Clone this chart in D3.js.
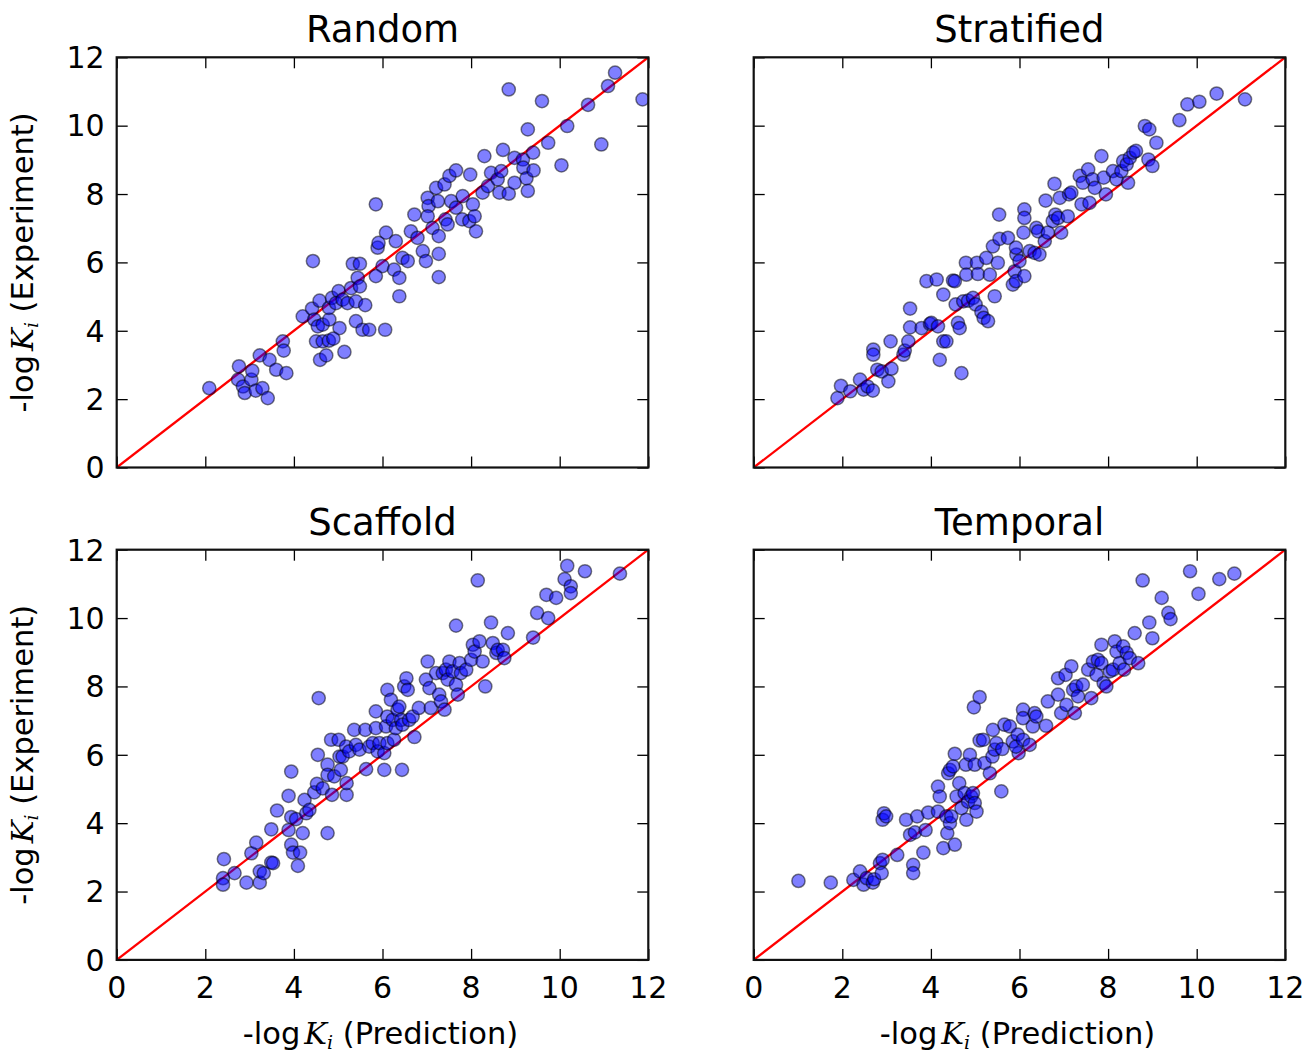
<!DOCTYPE html>
<html>
<head>
<meta charset="utf-8">
<script src="https://cdn.jsdelivr.net/npm/d3@7"></script>
<style>
  html, body { margin: 0; padding: 0; background: #fff; }
  svg { display: block; }
  text { font-family: "DejaVu Sans", sans-serif; fill: #000; }
</style>
</head>
<body>
<svg id="chart" width="1307" height="1057"></svg>
<script>
// Panel titles, in reading order
const panelTitles = ["Random", "Stratified", "Scaffold", "Temporal"];

// Axis ticks shared by every panel (both axes run 0..12)
const tickValues = [0, 2, 4, 6, 8, 10, 12];
const axisDomain = [0, 12];

// [prediction, experiment] pairs of -log Ki for each split
const randomPoints = [
  [2.09,2.32],[2.76,2.96],[2.74,2.57],[2.85,2.37],[2.89,2.18],[3.04,2.57],[3.06,2.83],[3.14,2.25],[3.29,2.32],[3.41,2.03],
  [3.23,3.28],[3.45,3.15],[3.6,2.86],[3.83,2.76],[3.75,3.69],[3.77,3.42],[4.2,4.42],[4.41,4.65],[4.43,6.04],[4.58,4.88],
  [4.46,4.33],[4.54,4.13],[4.65,4.18],[4.8,4.33],[5.03,4.08],[4.5,3.69],[4.65,3.69],[4.79,3.71],[4.89,3.77],[4.59,3.15],
  [4.73,3.28],[5.14,3.38],[4.79,4.67],[4.86,4.96],[5.01,5.16],[4.95,4.81],[5.1,4.91],[5.21,4.81],[5.29,5.25],[5.4,4.86],
  [5.44,5.55],[5.49,5.3],[5.61,4.75],[5.4,4.28],[5.55,4.03],[5.7,4.03],[6.06,4.03],[5.33,5.96],[5.49,5.96],[5.85,7.7],
  [5.89,6.43],[5.91,6.57],[6.0,5.89],[5.85,5.6],[6.08,6.87],[6.26,5.79],[6.38,5.55],[6.38,5.01],[6.3,6.62],[6.45,6.13],
  [6.57,6.04],[6.64,6.91],[6.72,7.4],[6.79,6.72],[6.91,6.33],[6.98,6.04],[7.02,7.89],[7.04,7.65],[7.02,7.35],[7.13,7.01],
  [7.27,6.77],[7.27,6.25],[7.27,5.57],[7.21,8.18],[7.25,7.79],[7.4,8.28],[7.51,8.53],[7.66,8.69],[7.42,7.26],[7.55,7.79],
  [7.66,7.6],[7.47,7.11],[7.81,7.94],[7.8,7.26],[7.96,7.21],[8.04,7.7],[8.08,7.35],[8.11,6.91],[7.98,8.57],[8.26,8.04],
  [8.3,9.11],[8.38,8.23],[8.45,8.62],[8.6,8.43],[8.68,8.67],[8.64,8.04],[8.85,8.01],[8.72,9.29],[8.85,11.06],[8.98,9.06],
  [8.98,8.33],[9.17,9.01],[9.18,8.77],[9.25,8.46],[9.28,8.09],[9.4,9.21],[9.41,8.69],[9.28,9.89],[9.6,10.72],[9.74,9.5],
  [10.04,8.84],[10.17,9.99],[10.64,10.61],[10.94,9.45],[11.09,11.16],[11.25,11.55],[11.87,10.77]
];

const stratifiedPoints = [
  [1.89,2.03],[1.97,2.39],[2.18,2.23],[2.4,2.57],[2.48,2.28],[2.57,2.37],[2.69,2.25],[2.7,3.45],[2.7,3.3],[2.79,2.86],
  [2.89,2.81],[3.04,2.52],[3.11,2.89],[3.09,3.69],[3.38,3.3],[3.41,3.42],[3.49,3.69],[3.53,4.1],[3.53,4.65],[3.79,4.08],
  [3.9,5.45],[3.98,4.2],[4.01,4.23],[4.13,5.5],[4.16,4.13],[4.2,3.15],[4.28,5.06],[4.28,3.69],[4.35,3.69],[4.5,5.47],
  [4.54,5.45],[4.56,4.77],[4.61,4.23],[4.65,4.08],[4.69,2.76],[4.73,4.86],[4.79,5.99],[4.8,5.64],[4.84,4.88],[4.95,4.96],
  [5.01,4.77],[5.04,5.99],[5.06,5.66],[5.14,4.55],[5.19,4.38],[5.25,6.13],[5.29,4.28],[5.33,5.64],[5.4,6.47],[5.44,5.01],
  [5.51,5.99],[5.54,7.4],[5.55,6.69],[5.74,6.72],[5.85,5.35],[5.89,5.74],[5.93,6.23],[6.09,6.87],[6.11,7.55],[6.11,7.3],
  [5.92,6.43],[5.92,5.45],[6.11,5.6],[6.0,6.04],[6.23,6.33],[6.34,6.28],[6.38,7.01],[6.42,6.91],[6.45,6.23],[6.57,6.62],
  [6.59,7.81],[6.64,6.87],[6.75,7.21],[6.79,8.3],[6.81,7.4],[6.87,7.3],[6.91,7.89],[6.94,6.87],[7.09,7.35],[7.12,7.99],
  [7.17,8.04],[7.36,8.53],[7.4,7.7],[7.43,8.33],[7.55,8.72],[7.58,7.74],[7.65,8.43],[7.7,8.18],[7.85,9.11],[7.9,8.48],
  [7.95,7.99],[8.11,8.67],[8.19,8.43],[8.3,8.67],[8.34,8.96],[8.42,8.87],[8.45,8.33],[8.49,9.06],[8.57,9.21],[8.63,9.26],
  [8.83,9.99],[8.93,9.89],[8.91,9.01],[9.0,8.82],[9.09,9.5],[9.61,10.16],[9.79,10.62],[10.06,10.7],[10.45,10.94],[11.09,10.77]
];

const scaffoldPoints = [
  [2.42,2.95],[2.4,2.39],[2.4,2.2],[2.66,2.54],[2.93,2.26],[3.04,3.12],[3.15,3.43],[3.23,2.26],[3.23,2.59],[3.32,2.54],
  [3.49,2.85],[3.53,2.83],[3.49,3.82],[3.62,4.37],[3.88,4.8],[3.94,5.51],[3.88,3.8],[3.94,3.37],[3.98,3.14],[4.14,3.14],
  [4.09,2.75],[3.94,4.18],[4.05,4.12],[4.2,3.71],[4.24,4.68],[4.28,4.29],[4.35,4.39],[4.46,4.9],[4.52,5.15],[4.54,6.0],
  [4.56,7.66],[4.65,5.02],[4.76,3.71],[4.76,5.71],[4.76,5.41],[4.84,6.44],[4.86,4.83],[4.91,5.37],[5.01,6.44],[5.03,5.95],
  [5.06,5.56],[5.1,5.95],[5.18,6.24],[5.19,4.83],[5.19,5.17],[5.25,6.1],[5.36,6.73],[5.4,6.29],[5.48,6.15],[5.61,6.73],
  [5.63,5.58],[5.7,6.24],[5.78,6.34],[5.85,7.27],[5.85,6.78],[5.89,6.1],[5.93,6.34],[6.04,5.56],[6.08,6.83],[6.11,7.9],
  [6.11,7.12],[6.44,5.56],[6.04,6.05],[6.11,6.34],[6.19,7.61],[6.23,7.02],[6.26,6.44],[6.3,6.78],[6.34,7.32],[6.38,7.41],
  [6.42,7.02],[6.45,6.88],[6.49,8.0],[6.54,8.24],[6.57,7.9],[6.6,7.02],[6.68,7.12],[6.72,6.52],[6.82,7.37],[6.98,8.2],
  [7.02,8.73],[7.06,7.95],[7.09,7.37],[7.21,8.39],[7.28,7.76],[7.32,7.56],[7.36,8.39],[7.4,7.32],[7.43,8.49],[7.47,8.2],
  [7.51,8.73],[7.58,8.44],[7.66,8.05],[7.66,9.78],[7.7,7.76],[7.74,8.68],[7.77,8.39],[7.89,8.49],[8.0,8.78],[8.04,9.22],
  [8.08,9.02],[8.15,11.1],[8.19,9.32],[8.26,8.73],[8.32,8.0],[8.45,9.87],[8.49,9.27],[8.57,8.98],[8.6,9.07],[8.72,9.07],
  [8.75,8.83],[8.83,9.56],[9.4,9.43],[9.49,10.15],[9.7,10.68],[9.74,10.0],[9.92,10.59],[10.11,11.14],[10.17,11.53],[10.25,10.93],
  [10.25,10.73],[10.57,11.37],[11.36,11.3]
];

const temporalPoints = [
  [1.01,2.31],[1.74,2.26],[2.25,2.34],[2.4,2.59],[2.48,2.2],[2.55,2.39],[2.69,2.26],[2.72,2.36],[2.85,2.83],[2.89,2.54],
  [2.91,2.93],[2.91,4.1],[2.94,4.29],[2.99,4.2],[3.24,3.07],[3.44,4.1],[3.53,3.66],[3.6,2.78],[3.6,2.54],[3.64,3.73],
  [3.69,4.2],[3.83,3.14],[3.88,3.8],[3.94,4.31],[4.16,4.34],[4.16,5.07],[4.2,4.78],[4.28,3.27],[4.35,4.2],[4.37,3.71],
  [4.39,5.46],[4.43,5.56],[4.43,4.0],[4.46,4.2],[4.5,5.66],[4.54,6.03],[4.54,3.37],[4.58,4.78],[4.64,5.17],[4.69,4.44],
  [4.76,4.88],[4.79,5.71],[4.8,4.1],[4.84,4.63],[4.88,6.0],[4.91,4.78],[4.95,4.88],[4.99,5.71],[4.99,4.59],[4.97,7.39],
  [5.1,7.69],[5.03,4.34],[5.1,6.42],[5.18,6.44],[5.21,5.76],[5.33,5.46],[5.4,6.73],[5.39,5.95],[5.44,6.15],[5.48,6.34],
  [5.59,4.93],[5.61,6.17],[5.66,6.88],[5.78,6.83],[5.85,6.39],[5.96,6.59],[5.98,6.05],[6.08,7.32],[6.08,7.07],[5.92,6.24],
  [6.08,6.44],[6.23,6.29],[6.3,6.83],[6.34,7.22],[6.38,7.12],[6.6,6.85],[6.64,7.56],[6.87,7.76],[6.87,8.24],[6.94,7.22],
  [7.04,8.34],[7.06,7.46],[7.17,8.59],[7.21,7.9],[7.25,7.22],[7.28,8.0],[7.32,7.71],[7.43,8.05],[7.55,8.49],[7.62,7.66],
  [7.66,8.73],[7.74,8.34],[7.77,8.78],[7.85,9.22],[7.85,8.68],[7.9,8.1],[7.96,8.0],[8.04,8.44],[8.11,8.49],[8.15,9.32],
  [8.19,9.02],[8.26,8.68],[8.34,9.17],[8.36,8.49],[8.42,8.98],[8.49,8.83],[8.6,9.56],[8.68,8.68],[8.78,11.1],[8.93,9.87],
  [9.0,9.41],[9.21,10.59],[9.36,10.15],[9.41,9.97],[9.85,11.37],[10.04,10.71],[10.51,11.14],[10.85,11.3]
];

const panelPoints = [randomPoints, stratifiedPoints, scaffoldPoints, temporalPoints];

// ---- layout ----
const colLeft = [116.7, 753.7];
const rowTop = [57.3, 549.7];
const plotW = 531.6, plotH = 410.2;
const tickFont = 30, titleFont = 37, labelFont = 30.5;

const svg = d3.select("#chart");

function axisLabel(g, text) {
  // "-log K_i (text)" with an italic K and a subscript i
  g.append("tspan").text("-log");
  g.append("tspan").attr("dx", 4)
    .style("font-family", "'DejaVu Serif', serif").style("font-style", "italic").text("K");
  g.append("tspan").attr("dy", 5).attr("font-size", labelFont * 0.62)
    .style("font-family", "'DejaVu Serif', serif").style("font-style", "italic").text("i");
  g.append("tspan").attr("dy", -5).text(" (" + text + ")");
}

panelPoints.forEach((pts, i) => {
  const col = i % 2, row = Math.floor(i / 2);
  const x0 = colLeft[col], y0 = rowTop[row];
  const x = d3.scaleLinear().domain(axisDomain).range([0, plotW]);
  const y = d3.scaleLinear().domain(axisDomain).range([plotH, 0]);

  const g = svg.append("g").attr("transform", `translate(${x0},${y0})`);

  const clipId = "clip" + i;
  g.append("clipPath").attr("id", clipId)
    .append("rect").attr("width", plotW).attr("height", plotH);

  const plot = g.append("g").attr("clip-path", `url(#${clipId})`);

  // identity line
  plot.append("line")
    .attr("x1", x(axisDomain[0])).attr("y1", y(axisDomain[0]))
    .attr("x2", x(axisDomain[1])).attr("y2", y(axisDomain[1]))
    .attr("stroke", "#ff0000").attr("stroke-width", 2.3);

  // scatter points
  plot.selectAll("circle").data(pts).join("circle")
    .attr("cx", d => x(d[0])).attr("cy", d => y(d[1]))
    .attr("r", 6.6)
    .attr("fill", "#0000ff").attr("fill-opacity", 0.5)
    .attr("stroke", "#000").attr("stroke-opacity", 0.5).attr("stroke-width", 1.5);

  // inward ticks on all four sides
  const tickLen = 11;
  const axes = [
    { axis: d3.axisBottom(x), t: `translate(0,${plotH})` },
    { axis: d3.axisTop(x), t: `translate(0,0)` },
    { axis: d3.axisLeft(y), t: `translate(0,0)` },
    { axis: d3.axisRight(y), t: `translate(${plotW},0)` }
  ];
  axes.forEach(a => {
    const ag = g.append("g").attr("transform", a.t)
      .call(a.axis.tickValues(tickValues).tickSizeInner(-tickLen).tickSizeOuter(0).tickPadding(0).tickFormat(d3.format("d")));
    ag.select(".domain").remove();
    ag.selectAll(".tick line").attr("stroke", "#000").attr("stroke-width", 1.3);
    ag.selectAll(".tick text").remove();
  });

  // tick labels
  if (row === 1) {
    g.selectAll(".xlab").data(tickValues).join("text")
      .attr("x", d => x(d)).attr("y", plotH + 38)
      .attr("text-anchor", "middle").attr("font-size", tickFont)
      .text(d => d);
  }
  if (col === 0) {
    g.selectAll(".ylab").data(tickValues).join("text")
      .attr("x", -12).attr("y", d => y(d) + tickFont * 0.36)
      .attr("text-anchor", "end").attr("font-size", tickFont)
      .text(d => d);
  }

  // frame
  g.append("rect").attr("width", plotW).attr("height", plotH)
    .attr("fill", "none").attr("stroke", "#111").attr("stroke-width", 2.2);

  // title
  g.append("text").attr("x", plotW / 2).attr("y", -15)
    .attr("text-anchor", "middle").attr("font-size", titleFont)
    .text(panelTitles[i]);

  if (row === 1) {
    const t = g.append("text").attr("x", plotW / 2 - 2).attr("y", plotH + 84)
      .attr("text-anchor", "middle").attr("font-size", labelFont);
    axisLabel(t, "Prediction");
  }
  if (col === 0) {
    const t = g.append("text")
      .attr("transform", `translate(${-84},${plotH / 2}) rotate(-90)`)
      .attr("text-anchor", "middle").attr("font-size", labelFont);
    axisLabel(t, "Experiment");
  }
});
</script>
</body>
</html>
